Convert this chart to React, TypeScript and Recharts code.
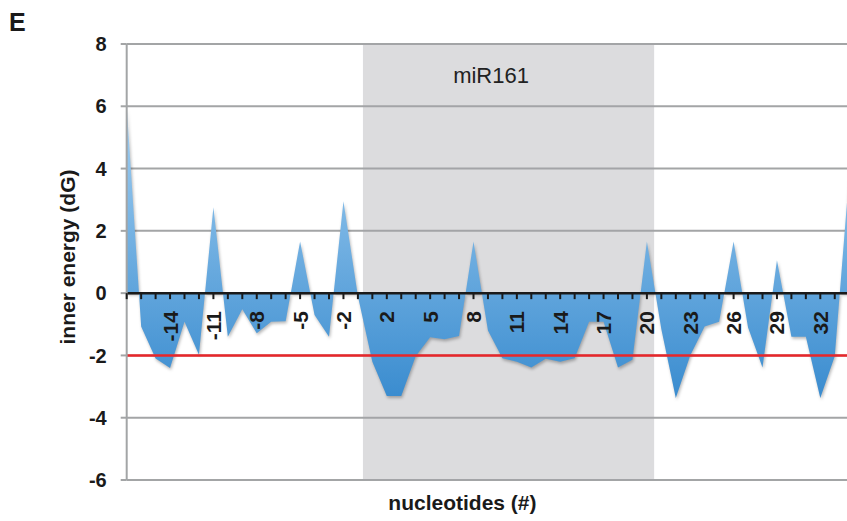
import {
  AreaChart,
  Area,
  XAxis,
  YAxis,
  CartesianGrid,
  ReferenceArea,
  ReferenceLine,
} from "recharts";

// nucleotide positions (there is no position 0)
const CATEGORIES = [
  -17, -16, -15, -14, -13, -12, -11, -10, -9, -8, -7, -6, -5, -4, -3, -2, -1,
  1, 2, 3, 4, 5, 6, 7, 8, 9, 10, 11, 12, 13, 14, 15, 16, 17, 18, 19, 20, 21,
  22, 23, 24, 25, 26, 27, 28, 29, 30, 31, 32, 33, 34,
];

const ENERGY = [
  6.0, -1.07, -2.1, -2.4, -0.92, -1.98, 2.76, -1.4, -0.52, -1.29, -0.92, -0.9,
  1.66, -0.7, -1.4, 2.95, -0.1, -2.2, -3.3, -3.3, -2.03, -1.42, -1.48, -1.38,
  1.66, -1.2, -2.09, -2.2, -2.39, -2.11, -2.2, -2.09, -0.92, -0.92, -2.39,
  -2.14, 1.66, -1.16, -3.37, -2.0, -1.07, -0.92, 1.66, -1.1, -2.39, 1.06, -1.4,
  -1.4, -3.37, -2.03, 3.8,
];

const TICK_LABELS = [-14, -11, -8, -5, -2, 2, 5, 8, 11, 14, 17, 20, 23, 26, 29, 32];
const Y_TICKS = [-6, -4, -2, 0, 2, 4, 6, 8];
const THRESHOLD = -2;
// miR161 region, in index units along the x axis
const MIR_START = 16.35;
const MIR_END = 36.5;

const data = CATEGORIES.map((pos, i) => ({ idx: i, pos, energy: ENERGY[i] }));
const xTicks = CATEGORIES.map((_, i) => i);

const FONT = "'Liberation Sans', Arial, Helvetica, sans-serif";
const GRID = "#a3a5a6";
const W = 870;
const H = 521;
const MARGIN = { top: 44, right: 20.8, bottom: 0, left: 0 };
const Y_AXIS_W = 126.7;
const X_AXIS_H = 41;
const PLOT_H = H - MARGIN.top - MARGIN.bottom - X_AXIS_H;
const ZERO_Y = MARGIN.top + (PLOT_H * 8) / 14;

function XTick(props: any) {
  const { x, payload } = props;
  const pos = CATEGORIES[payload.value];
  const show = TICK_LABELS.includes(pos);
  const ly = ZERO_Y + 18;
  return (
    <g>
      <line x1={x} x2={x} y1={ZERO_Y} y2={ZERO_Y + 6} stroke="#1a1a1a" strokeWidth={2} />
      {show && (
        <text
          x={x}
          y={ly}
          transform={`rotate(-90 ${x} ${ly})`}
          textAnchor="end"
          dominantBaseline="central"
          fontFamily={FONT}
          fontWeight="bold"
          fontSize={21}
          fill="#1a1a1a"
        >
          {pos}
        </text>
      )}
    </g>
  );
}

export default function App() {
  return (
    <div
      style={{
        position: "absolute",
        left: 0,
        top: 0,
        width: 847,
        height: 521,
        overflow: "hidden",
        background: "#fff",
      }}
    >
      <style>{`.recharts-area-area { filter: drop-shadow(1px 2px 1.5px rgba(0,0,0,0.28)); }`}</style>
      <div
        style={{
          position: "absolute",
          left: 9,
          top: 10,
          fontFamily: FONT,
          fontWeight: "bold",
          fontSize: 25,
          lineHeight: 1,
          color: "#1a1a1a",
        }}
      >
        E
      </div>
      <AreaChart width={W} height={H} data={data} margin={MARGIN}>
        <defs>
          <linearGradient id="energyFill" x1="0" y1="0" x2="0" y2="1">
            <stop offset="0%" stopColor="#a2cff2" />
            <stop offset="100%" stopColor="#3a8ccf" />
          </linearGradient>
        </defs>
        <CartesianGrid vertical={false} stroke={GRID} strokeWidth={2} />
        {/* translucent grey so the grid lines keep their colour underneath */}
        <ReferenceArea
          x1={MIR_START}
          x2={MIR_END}
          fill="#a2a2a8"
          fillOpacity={0.38}
          stroke="none"
          label={(p: any) => (
            <text
              x={p.viewBox.x + p.viewBox.width * 0.44}
              y={p.viewBox.y + 39}
              textAnchor="middle"
              fontFamily={FONT}
              fontSize={22}
              fill="#222"
            >
              miR161
            </text>
          )}
        />
        <XAxis
          type="number"
          dataKey="idx"
          domain={[0, CATEGORIES.length - 1]}
          ticks={xTicks}
          interval={0}
          height={X_AXIS_H}
          axisLine={false}
          tickLine={false}
          tick={<XTick />}
          label={(p: any) => (
            <text
              x={p.viewBox.x + p.viewBox.width / 2 - 25.5}
              y={p.viewBox.y + 30}
              textAnchor="middle"
              fontFamily={FONT}
              fontWeight="bold"
              fontSize={21}
              fill="#1a1a1a"
            >
              nucleotides (#)
            </text>
          )}
        />
        <YAxis
          type="number"
          domain={[-6, 8]}
          ticks={Y_TICKS}
          width={Y_AXIS_W}
          axisLine={{ stroke: GRID, strokeWidth: 2 }}
          tickLine={{ stroke: GRID, strokeWidth: 2 }}
          tickSize={6}
          tickMargin={14}
          tick={{ fontFamily: FONT, fontWeight: "bold", fontSize: 20, fill: "#1a1a1a" }}
          label={() => (
            <text
              x={67}
              y={257}
              transform="rotate(-90 67 257)"
              textAnchor="middle"
              dominantBaseline="central"
              fontFamily={FONT}
              fontWeight="bold"
              fontSize={21}
              fill="#1a1a1a"
            >
              inner energy (dG)
            </text>
          )}
        />
        <Area
          type="linear"
          dataKey="energy"
          baseValue={0}
          stroke="none"
          fill="url(#energyFill)"
          fillOpacity={1}
          dot={false}
          activeDot={false}
          isAnimationActive={false}
        />
        <ReferenceLine y={THRESHOLD} stroke="#e8262a" strokeWidth={2.5} />
        <ReferenceLine y={0} stroke="#1a1a1a" strokeWidth={2.5} />
      </AreaChart>
    </div>
  );
}
